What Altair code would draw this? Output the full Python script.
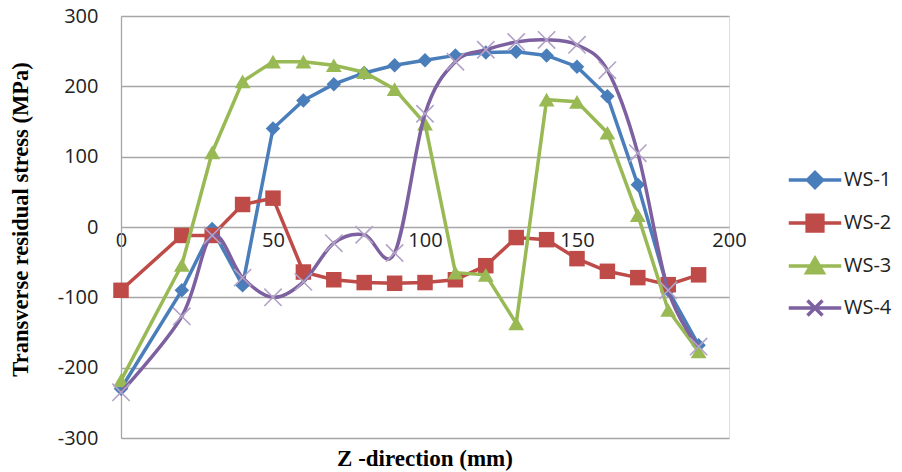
import altair as alt
import pandas as pd

# ---- data ----
z_mm = [0, 20, 30, 40, 50, 60, 70, 80, 90, 100, 110, 120, 130, 140, 150, 160, 170, 180, 190]
ws1 = [-230, -90, -3, -83, 140, 180, 203, 219, 230, 237, 244, 248, 249, 244, 228, 186, 60, -90, -168]
ws2 = [-90, -12, -12, 32, 41, -64, -75, -79, -80, -79, -75, -55, -15, -18, -45, -63, -72, -82, -68]
ws3 = [-218, -54, 106, 207, 235, 235, 230, 220, 196, 147, -65, -68, -137, 181, 178, 134, 17, -118, -177]
ws4 = [-235, -127, -12, -72, -100, -78, -23, -11, -37, 161, 235, 252, 263, 266, 259, 223, 105, -90, -170]

series_names = ["WS-1", "WS-2", "WS-3", "WS-4"]
series_values = [ws1, ws2, ws3, ws4]
colors = ["#4A7EBB", "#BE4B48", "#98B954", "#7D60A0"]
marker_colors = ["#4A7EBB", "#BE4B48", "#98B954", "#B3A2C7"]
interps = ["linear", "linear", "linear", "cardinal"]
y_ticks = [-300, -200, -100, 0, 100, 200, 300]
x_ticks = [0, 50, 100, 150, 200]

rows = []
for name, vals in zip(series_names, series_values):
    for zv, sv in zip(z_mm, vals):
        rows.append({"z": zv, "stress": sv, "series": name})
df = pd.DataFrame(rows)

LABEL_FONT = "Open Sans"
TITLE_FONT = "Liberation Serif"
GRID = "#A6A6A6"

x_enc = alt.X(
    "z:Q",
    scale=alt.Scale(domain=[0, 200], nice=False, zero=False),
    axis=alt.Axis(
        values=x_ticks, offset=-211, grid=False, domain=False, ticks=False,
        labelPadding=3, labelFont=LABEL_FONT, labelFontSize=20, labelColor="#222",
        title=None, labelFlush=False,
    ),
)
y_enc = alt.Y(
    "stress:Q",
    scale=alt.Scale(domain=[-300, 300], nice=False),
    axis=alt.Axis(
        values=y_ticks, grid=True, gridColor=GRID, gridWidth=1.3,
        domainColor=GRID, domainWidth=1.3, ticks=False,
        labelExpr="'' + datum.value",
        labelPadding=23, labelFont=LABEL_FONT, labelFontSize=20, labelColor="#222",
        title="Transverse residual stress (MPa)", titleFont=TITLE_FONT,
        titleFontSize=22.5, titleFontWeight="bold", titleColor="black",
        titleX=-101, titleY=203, titleAngle=270, titleAlign="center",
        titleBaseline="middle",
    ),
)

base = alt.Chart(df)
layers = []
shapes_plot = [
    dict(shape="diamond", size=210, filled=True),
    dict(shape="square", size=240, filled=True),
    dict(shape="triangle-up", size=250, filled=True),
    dict(shape="M-1,-1L1,1M1,-1L-1,1", size=300, filled=False, strokeWidth=1.6),
]
for name, col, mcol, interp, shp in zip(series_names, colors, marker_colors, interps, shapes_plot):
    sub = base.transform_filter(alt.datum.series == name)
    line_kwargs = dict(color=col, strokeWidth=3.5, interpolate=interp)
    if interp == "cardinal":
        line_kwargs["tension"] = 0
    layers.append(sub.mark_line(**line_kwargs).encode(x=x_enc, y=y_enc))
    layers.append(sub.mark_point(color=mcol, opacity=1, **shp).encode(x=x_enc, y=y_enc))

# legend-only layer (no visible marks): line + marker symbols
legend_paths = [
    "M-3.5,0L3.5,0M0,-1L1,0L0,1L-1,0Z",
    "M-3.5,0L3.5,0M-1.05,-1.05L1.05,-1.05L1.05,1.05L-1.05,1.05Z",
    "M-3.5,0L3.5,0M0,-1L1.1,0.9L-1.1,0.9Z",
    "M-3.5,0L3.5,0M-1,-1L1,1M1,-1L-1,1",
]
leg = alt.Legend(
    title=None, orient="none", legendX=684, legendY=154, padding=0,
    symbolSize=225, symbolStrokeWidth=3.5, labelOffset=19,
    labelFont=LABEL_FONT, labelFontSize=20, labelColor="#222",
    rowPadding=13, symbolOpacity=1,
)
legend_layer = base.transform_filter("datum.z < -1000").mark_point(filled=True, strokeWidth=3.5, opacity=1).encode(
    x=x_enc, y=y_enc,
    color=alt.Color("series:N", scale=alt.Scale(domain=series_names, range=colors), legend=leg),
    stroke=alt.Stroke("series:N", scale=alt.Scale(domain=series_names, range=colors), legend=leg),
    shape=alt.Shape("series:N", scale=alt.Scale(domain=series_names, range=legend_paths), legend=leg),
)
layers.append(legend_layer)

chart = alt.layer(*layers).properties(
    width=608, height=422,
    padding={"left": 121, "top": 16, "right": 173, "bottom": 34},
    autosize=alt.AutoSizeParams(type="none"),
    title=alt.TitleParams(
        "Z -direction (mm)", orient="bottom", anchor="middle",
        font=TITLE_FONT, fontSize=23, fontWeight="bold", color="black", offset=0,
    ),
).configure_view(stroke=None).configure(background="white")

chart.save("out.html", embed_options={"renderer": "svg", "actions": False})
